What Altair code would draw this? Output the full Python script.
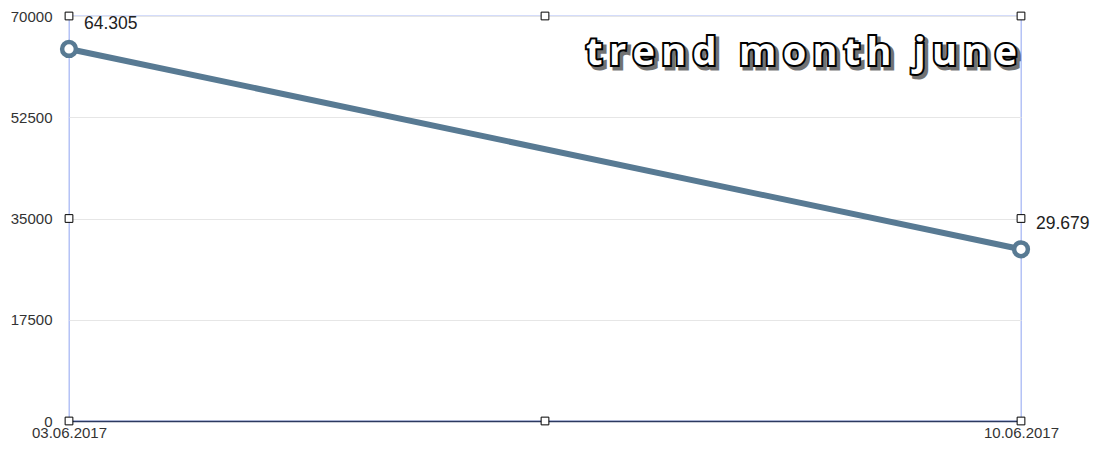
import altair as alt
import pandas as pd

dates = ["2017-06-03", "2017-06-10"]
values = [64305, 29679]
labels = ["64.305", "29.679"]
y_ticks = [0, 17500, 35000, 52500, 70000]

handle_dates = ["2017-06-03", "2017-06-06T12:00:00", "2017-06-10",
                "2017-06-03", "2017-06-10",
                "2017-06-03", "2017-06-06T12:00:00", "2017-06-10"]
handle_vals = [70000, 70000, 70000, 35000, 35000, 0, 0, 0]

title_text = "trend month june"
spaced = "\u2009".join(list(title_text))

df = pd.DataFrame({"date": dates, "value": values, "label": labels})
hdf = pd.DataFrame({"date": handle_dates, "value": handle_vals})

LINE = "#587a93"
AX = "#333333"

x_enc = alt.X("date:T",
              scale=alt.Scale(type="utc", nice=False),
              axis=alt.Axis(title=None,
                            values=[alt.DateTime(year=2017, month=6, date=3, utc=True),
                                    alt.DateTime(year=2017, month=6, date=10, utc=True)],
                            labelExpr="utcFormat(datum.value, '%d.%m.%Y')",
                            labelFont="Liberation Sans", labelFontSize=15, labelColor=AX,
                            ticks=False, grid=False, domainColor="#2c3a60", domainWidth=1.3,
                            labelPadding=4, labelFlush=False))
y_enc = alt.Y("value:Q",
              scale=alt.Scale(domain=[0, 70000], nice=False),
              axis=alt.Axis(title=None, values=y_ticks, format="d",
                            labelFont="Liberation Sans", labelFontSize=15, labelColor=AX,
                            ticks=False, domain=False, gridColor="#e6e6e6",
                            labelPadding=17))

base = alt.Chart(df)

line = base.mark_line(color=LINE, strokeWidth=6).encode(x=x_enc, y=y_enc)
pts = base.mark_point(shape="circle", filled=False, fill="white", fillOpacity=1,
                      color=LINE, strokeWidth=4.5, size=190, opacity=1).encode(x="date:T", y="value:Q")
txt = base.mark_text(align="left", baseline="middle", dx=15, dy=-25,
                     font="Liberation Sans", fontSize=17.5, color="#222222").encode(
    x="date:T", y="value:Q", text="label:N")

handles = alt.Chart(hdf).mark_point(shape="square", filled=False, fill="white", fillOpacity=1,
                                    color="black", strokeWidth=1, size=60, opacity=1).encode(
    x="date:T", y="value:Q")

tdf = pd.DataFrame({"t": [spaced]})
tbase = alt.Chart(tdf)
TS = 38
shadow = tbase.mark_text(align="right", baseline="alphabetic", font="Open Sans", fontWeight="bold",
                         fontSize=TS, color="black", stroke="black", strokeWidth=5, opacity=0.55,
                         dx=3, dy=3).encode(x=alt.value(948), y=alt.value(49), text="t:N")
outline = tbase.mark_text(align="right", baseline="alphabetic", font="Open Sans", fontWeight="bold",
                          fontSize=TS, color="black", stroke="black", strokeWidth=4).encode(
    x=alt.value(948), y=alt.value(49), text="t:N")
fill = tbase.mark_text(align="right", baseline="alphabetic", font="Open Sans", fontWeight="bold",
                       fontSize=TS, color="white").encode(
    x=alt.value(948), y=alt.value(49), text="t:N")

chart = alt.layer(line, pts, handles, txt, shadow, outline, fill).properties(
    width=952, height=405,
    autosize=alt.AutoSizeParams(type="none"),
    padding={"left": 61, "top": 8, "right": 69, "bottom": 30},
).configure_view(stroke="#a9b9f5", strokeWidth=1.3)

chart.save("out.html", embed_options={"renderer": "svg", "actions": False})
